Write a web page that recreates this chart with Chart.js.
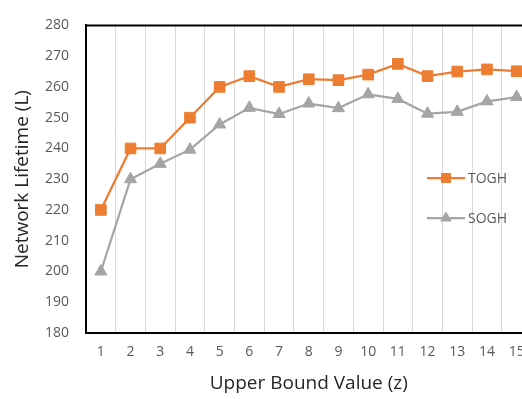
<!DOCTYPE html>
<html>
<head>
<meta charset="utf-8">
<script src="https://cdn.jsdelivr.net/npm/chart.js@4"></script>
<style>
html,body{margin:0;padding:0;background:#fff;overflow:hidden;width:522px;height:399px;}
#wrap{position:absolute;left:0;top:0;width:540px;height:399px;}
</style>
</head>
<body>
<div id="wrap"><canvas id="c" width="540" height="399"></canvas></div>
<script>
const categories = ['1','2','3','4','5','6','7','8','9','10','11','12','13','14','15'];
const toghValues = [220, 240, 240, 250, 260, 263.5, 260, 262.5, 262.2, 264, 267.5, 263.5, 265, 265.7, 265.1];
const soghValues = [200, 230, 235, 239.6, 247.8, 253.2, 251.2, 254.6, 253.1, 257.6, 256.1, 251.3, 251.9, 255.3, 256.7];
const seriesNames = ['TOGH', 'SOGH'];
const yTickMin = 180, yTickMax = 280, yTickStep = 10;

const ORANGE = '#ED7D31', GRAY = '#A5A5A5';

const frameAndLegend = {
  id: 'frameAndLegend',
  afterDraw(chart) {
    const ctx = chart.ctx, a = chart.chartArea;
    ctx.save();
    ctx.strokeStyle = '#000';
    ctx.lineWidth = 2;
    ctx.beginPath();
    ctx.moveTo(a.left, a.top);
    ctx.lineTo(a.right + 20, a.top);
    ctx.stroke();
    const items = [
      {ds: chart.data.datasets[0], y: 178},
      {ds: chart.data.datasets[1], y: 218}
    ];
    items.forEach(it => {
      const x0 = 427, x1 = 465, xm = (x0 + x1) / 2;
      ctx.strokeStyle = it.ds.borderColor;
      ctx.lineWidth = 2.25;
      ctx.beginPath(); ctx.moveTo(x0, it.y); ctx.lineTo(x1, it.y); ctx.stroke();
      ctx.fillStyle = it.ds.borderColor;
      ctx.strokeStyle = it.ds.borderColor;
      ctx.lineWidth = 1;
      Chart.helpers.drawPoint(ctx, {pointStyle: it.ds.pointStyle, rotation: 0, borderWidth: 1, radius: it.ds.pointRadius * 0.85}, xm, it.y);
      ctx.fillStyle = '#595959';
      ctx.font = '14px "Open Sans"';
      ctx.textAlign = 'left';
      ctx.textBaseline = 'middle';
      ctx.fillText(it.ds.label, x1 + 3, it.y + 1);
    });
    ctx.restore();
  }
};

new Chart(document.getElementById('c'), {
  type: 'line',
  data: {
    labels: categories,
    datasets: [
      {label: seriesNames[0], data: toghValues, borderColor: ORANGE, backgroundColor: ORANGE,
       borderWidth: 2.25, pointStyle: 'rect', pointRadius: 7.5, pointBorderWidth: 1, tension: 0},
      {label: seriesNames[1], data: soghValues, borderColor: GRAY, backgroundColor: GRAY,
       borderWidth: 2.25, pointStyle: 'triangle', pointRadius: 7, pointBorderWidth: 1, tension: 0}
    ]
  },
  options: {
    responsive: false,
    animation: false,
    devicePixelRatio: 1,
    layout: {padding: {left: 0, top: 16, right: 7, bottom: 0}},
    plugins: {legend: {display: false}, tooltip: {enabled: false}},
    scales: {
      x: {
        offset: true,
        grid: {offset: true, color: '#D9D9D9', lineWidth: 1, drawTicks: false},
        border: {display: true, color: '#000', width: 2},
        ticks: {color: '#595959', font: {family: 'Open Sans', size: 14}, padding: 11, maxRotation: 0, autoSkip: false},
        title: {display: true, text: 'Upper Bound Value (z)', color: '#262626',
                font: {family: 'Open Sans', size: 19}, padding: {top: 6, bottom: 4}},
        afterFit: s => { s.height = 66; }
      },
      y: {
        min: yTickMin, max: yTickMax,
        ticks: {stepSize: yTickStep, color: '#595959', font: {family: 'Open Sans', size: 14}, padding: 17},
        grid: {display: false, drawTicks: false},
        border: {display: true, color: '#000', width: 2},
        title: {display: true, text: 'Network Lifetime (L)', color: '#262626',
                font: {family: 'Open Sans', size: 19}, padding: {top: 11, bottom: 4}},
        afterFit: s => { s.width = 86; }
      }
    }
  },
  plugins: [frameAndLegend]
});
</script>
</body>
</html>
